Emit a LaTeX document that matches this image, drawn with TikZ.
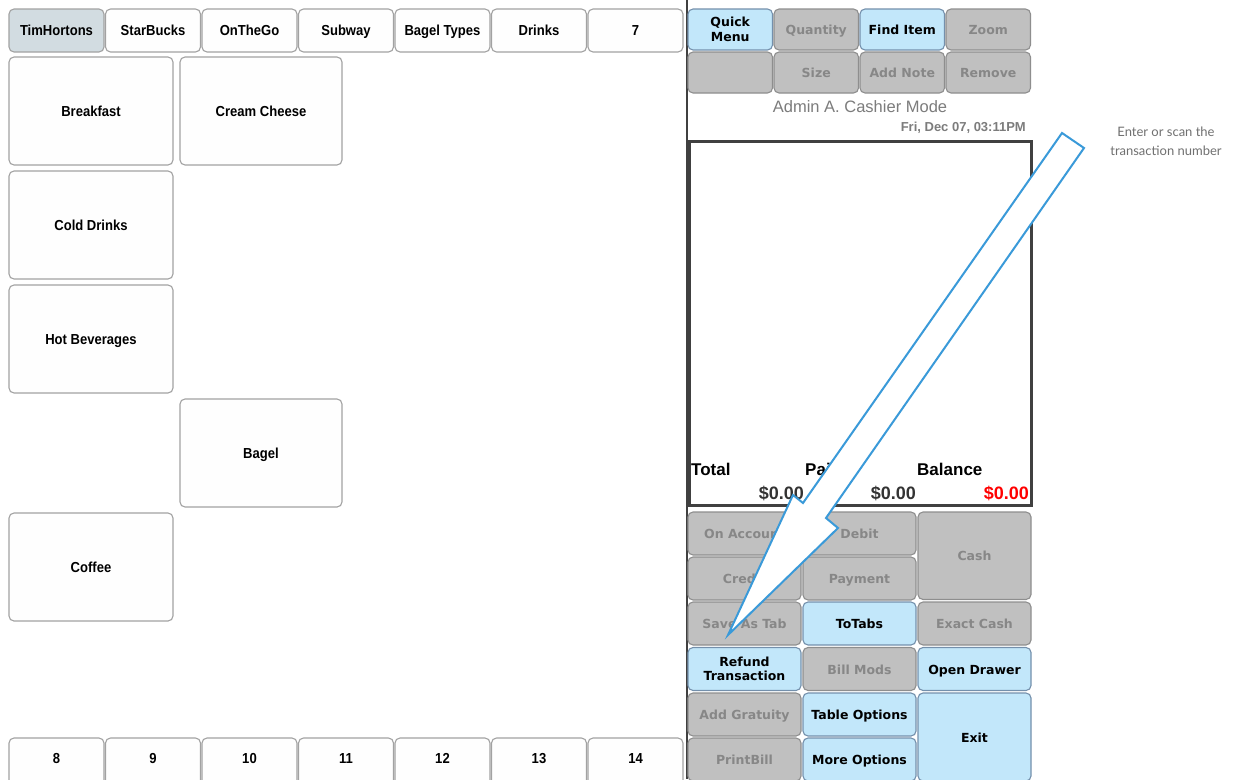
\documentclass[tikz,border=0pt]{standalone}
\usepackage{fontspec}
\setmainfont{Liberation Sans}
\newfontfamily\narrowf[FakeStretch=0.9]{Liberation Sans}
\newfontfamily\dvf{DejaVu Sans}
\newfontfamily\latof{Lato}
\definecolor{tabedge}{HTML}{A2A2A2}
\definecolor{tabfill}{HTML}{FEFEFE}
\definecolor{selfill}{HTML}{D2DCE1}
\definecolor{gfill}{HTML}{C0C0C0}
\definecolor{gedge}{HTML}{8E8E8E}
\definecolor{gtext}{HTML}{878787}
\definecolor{bfill}{HTML}{C2E7FA}
\definecolor{bedge}{HTML}{7490AC}
\definecolor{admgray}{HTML}{7C7C7C}
\definecolor{valgray}{HTML}{333333}
\definecolor{notegray}{HTML}{707070}
\definecolor{arrowblue}{HTML}{3A9AD9}
\definecolor{darkline}{HTML}{404040}
\begin{document}
\begin{tikzpicture}[x=1pt,y=-1pt,
  base/.style={rectangle, rounded corners=5pt, inner sep=0pt, outer sep=0pt,
    anchor=north west, align=center, line width=1.1pt},
  oneline/.style={text height=11pt, text depth=1pt},
  tabbox/.style={base, oneline, draw=tabedge, fill=tabfill, text=black,
    font=\narrowf\bfseries\fontsize{14.5}{16}\selectfont,
    minimum width=95pt, minimum height=43pt},
  seltab/.style={tabbox, fill=selfill},
  bottab/.style={tabbox, minimum height=0pt, text height=25pt, text depth=27pt},
  itembox/.style={tabbox, minimum width=164pt, minimum height=108pt},
  btnfont/.style={font=\dvf\bfseries\fontsize{12.5}{14.5}\selectfont},
  gbase/.style={base, btnfont, draw=gedge, fill=gfill, text=gtext,
    minimum width=113pt, minimum height=43pt},
  bbase/.style={base, btnfont, draw=bedge, fill=bfill, text=black,
    minimum width=113pt, minimum height=43pt},
  gbtn/.style={gbase, oneline},
  bbtn/.style={bbase, oneline},
  topbtn/.style={minimum width=84.5pt, minimum height=41pt},
  sumlabel/.style={anchor=base west, inner sep=0pt, font=\bfseries\fontsize{17}{17}\selectfont, text=black},
  sumvalue/.style={anchor=base east, inner sep=0pt, font=\bfseries\fontsize{18}{18}\selectfont, text=valgray}
]
\clip (0,0) rectangle (1236,779);
\fill[white] (0,0) rectangle (1236,779);

% top category tabs
\node[seltab] (top0) at (9,9) {TimHortons};
\foreach \i/\t in {1/StarBucks,2/OnTheGo,3/Subway,4/Bagel Types,5/Drinks,6/7}
  \node[tabbox] (top\i) at ({9+96.5*\i},9) {\t};

% bottom tabs
\foreach \i/\t in {0/8,1/9,2/10,3/11,4/12,5/13,6/14}
  \node[bottab] (bot\i) at ({9+96.5*\i},738) {\t};

% item buttons
\node[itembox] (breakfast) at (9,57) {Breakfast};
\node[itembox, minimum width=162pt] (cream) at (180,57) {Cream Cheese};
\node[itembox] (cold) at (9,171) {Cold Drinks};
\node[itembox] (hot) at (9,285) {Hot Beverages};
\node[itembox, minimum width=162pt] (bagel) at (180,399) {Bagel};
\node[itembox] (coffee) at (9,513) {Coffee};

% separator
\draw[darkline, line width=2pt] (687,0) -- (687,779);

% top right buttons
\node[bbase, topbtn] (quick) at (688,9) {Quick\\Menu};
\node[gbtn, topbtn] (qty) at (774,9) {Quantity};
\node[bbtn, topbtn] (find) at (860,9) {Find Item};
\node[gbtn, topbtn] (zoom) at (946,9) {Zoom};
\node[gbtn, topbtn] (blank) at (688,52) {};
\node[gbtn, topbtn] (size) at (774,52) {Size};
\node[gbtn, topbtn] (addnote) at (860,52) {Add Note};
\node[gbtn, topbtn] (remove) at (946,52) {Remove};

% header texts
\node[anchor=base, inner sep=0pt, text=admgray, font=\fontsize{16.5}{16.5}\selectfont] (admin) at (860,112) {Admin A. Cashier Mode};
\node[anchor=base east, inner sep=0pt, text=admgray, font=\bfseries\fontsize{13}{13}\selectfont] (date) at (1026,131) {Fri, Dec 07, 03:11PM};

% receipt box
\draw[darkline, line width=3pt] (689,141) rectangle (1031,505);
\node[sumlabel] (total) at (691,475) {Total};
\node[sumlabel] (paid) at (805,475) {Paid};
\node[sumlabel] (balance) at (917,475) {Balance};
\node[sumvalue] (vtotal) at (804,499) {\$0.00};
\node[sumvalue] (vpaid) at (916,499) {\$0.00};
\node[sumvalue, text=red] (vbal) at (1029,499) {\$0.00};

% bottom right buttons
\node[gbtn] (onacc) at (688,512) {On Account};
\node[gbtn] (debit) at (803,512) {Debit};
\node[gbtn, minimum height=87.5pt] (cash) at (918,512) {Cash};
\node[gbtn] (credit) at (688,557) {Credit};
\node[gbtn] (payment) at (803,557) {Payment};
\node[gbtn] (savetab) at (688,602) {Save As Tab};
\node[bbtn] (totabs) at (803,602) {ToTabs};
\node[gbtn] (exact) at (918,602) {Exact Cash};
\node[bbase] (refund) at (688,647.5) {Refund\\Transaction};
\node[gbtn] (billmods) at (803,647.5) {Bill Mods};
\node[bbtn] (drawer) at (918,647.5) {Open Drawer};
\node[gbtn] (gratuity) at (688,693) {Add Gratuity};
\node[bbtn] (tableopt) at (803,693) {Table Options};
\node[bbtn, minimum height=88pt] (exit) at (918,693) {Exit};
\node[gbtn] (printbill) at (688,738) {PrintBill};
\node[bbtn] (moreopt) at (803,738) {More Options};

% annotation
\node[inner sep=0pt, align=center, text=notegray, font=\latof\fontsize{13}{19}\selectfont] (hint) at (1166,141) {Enter or scan the\\transaction number};

% block arrow
\draw[arrowblue, fill=white, line width=2pt, line join=miter]
  (1062,133) -- (803,503) -- (793,495) -- (728,635) -- (838,528) -- (826,518) -- (1084,148) -- cycle;
\end{tikzpicture}
\end{document}
